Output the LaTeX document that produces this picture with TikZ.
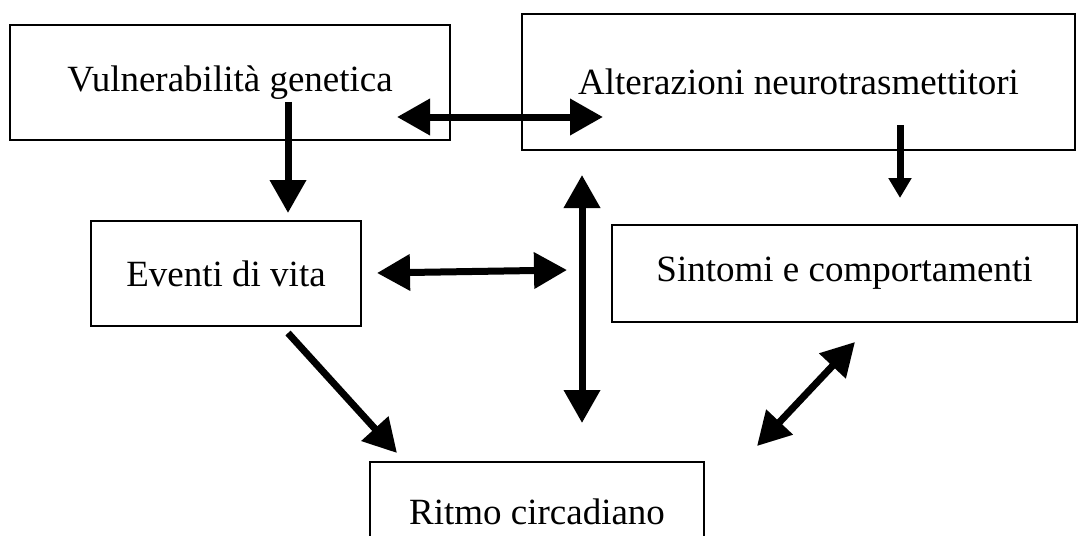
\documentclass[tikz,border=0pt]{standalone}
\usepackage{fontspec}
\setmainfont{Liberation Serif}
\usetikzlibrary{arrows.meta}

\begin{document}
\begin{tikzpicture}[x=0.5pt,y=-0.5pt,
	box/.style={draw,line width=0.7pt,inner sep=0pt,font=\fontsize{18.5}{22}\selectfont},
	fat/.style={line width=3.5pt},
	>={Triangle[length=16.5pt,width=17.5pt]},
	thin/.style={line width=3.5pt,-{Triangle[length=10pt,width=11pt]}}
]
\useasboundingbox (0,0) rectangle (1080,535);
\clip (0,0) rectangle (1080,535);
\foreach \n/\x/\w/\h/\t in{
	vuln/{(230,82.5)}/220pt/57.5pt/{Vulnerabilità genetica},
	alter/{(798.5,82)}/276.5pt/68pt/{Alterazioni neurotrasmettitori},
	eventi/{(226,273.5)}/135pt/52.5pt/{Eventi di vita},
	sintomi/{(844.5,273.5)}/232.5pt/48.5pt/{Sintomi e comportamenti},
	ritmo/{(537,512)}/167pt/50pt/{Ritmo circadiano}
}
{
	\node[box,minimum width=\w,minimum height=\h] (\n) at \x {\t};
}
% free ends of the arrows
\coordinate (vuln-s) at (288,102);
\coordinate (eventi-n) at (288,213);
\coordinate (vuln-e) at (397,117);
\coordinate (alter-w) at (603,117);
\coordinate (alter-s) at (900,125);
\coordinate (sintomi-n) at (900,198);
\coordinate (eventi-e) at (377,273);
\coordinate (mid-w) at (567,270);
\coordinate (mid-n) at (582,175);
\coordinate (mid-s) at (582,423);
\coordinate (eventi-se) at (288,333);
\coordinate (ritmo-nw) at (397,453);
\coordinate (ritmo-ne) at (757,446);
\coordinate (sintomi-sw) at (855,342);
\draw[fat,->] (vuln-s) -- (eventi-n);
\draw[fat,<->] (vuln-e) -- (alter-w);
\draw[thin] (alter-s) -- (sintomi-n);
\draw[fat,<->] (eventi-e) -- (mid-w);
\draw[fat,<->] (mid-n) -- (mid-s);
\draw[fat,->] (eventi-se) -- (ritmo-nw);
\draw[fat,<->] (ritmo-ne) -- (sintomi-sw);
\end{tikzpicture}
\end{document}
